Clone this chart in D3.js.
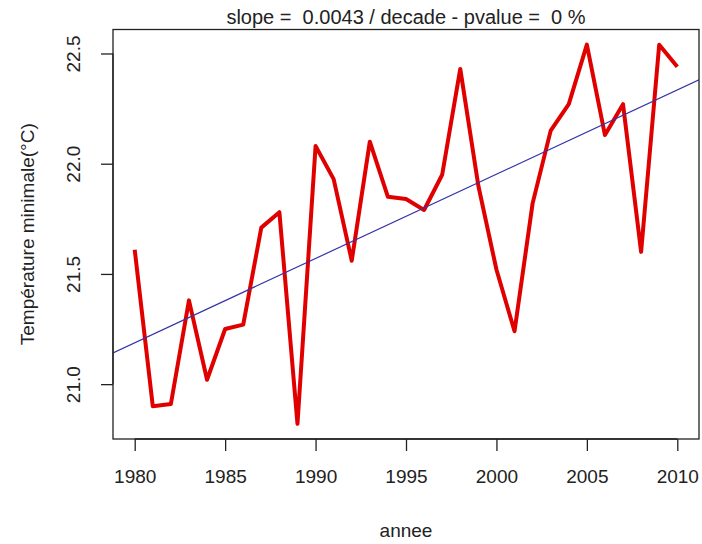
<!DOCTYPE html>
<html>
<head>
<meta charset="utf-8">
<script src="https://cdn.jsdelivr.net/npm/d3@7"></script>
<style>
  body { margin: 0; background: #fff; }
  text { font-family: "Liberation Sans", Arial, sans-serif; fill: #222; }
</style>
</head>
<body>
<script>
// annees et temperatures minimales
const years = d3.range(1980, 2011);
const tmin = [21.61, 20.90, 20.91, 21.38, 21.02, 21.25, 21.27, 21.71, 21.78, 20.82,
              22.08, 21.93, 21.56, 22.10, 21.85, 21.84, 21.79, 21.95, 22.43, 21.90,
              21.52, 21.24, 21.82, 22.15, 22.27, 22.54, 22.13, 22.27, 21.60, 22.54, 22.44];
const xTicks = [1980, 1985, 1990, 1995, 2000, 2005, 2010];
const yTicks = [21.0, 21.5, 22.0, 22.5];
const title = "slope =  0.0043 / decade - pvalue =  0 %";

const W = 702, H = 544;
const m = {left: 113, right: 3, top: 29.5, bottom: 105};
const fs = 19;

const svg = d3.select("body").append("svg")
    .attr("width", W).attr("height", H);

// echelles facon R (etendue +4%)
const xr = d3.extent(years), yr = d3.extent(tmin);
const dx = (xr[1] - xr[0]) * 0.04, dy = (yr[1] - yr[0]) * 0.04;
const x = d3.scaleLinear().domain([xr[0] - dx, xr[1] + dx]).range([m.left, W - m.right]);
const y = d3.scaleLinear().domain([yr[0] - dy, yr[1] + dy]).range([H - m.bottom, m.top]);

// regression lineaire (abline)
const mx = d3.mean(years), my = d3.mean(tmin);
let sxy = 0, sxx = 0;
years.forEach((yy, i) => { sxy += (yy - mx) * (tmin[i] - my); sxx += (yy - mx) * (yy - mx); });
const b = sxy / sxx, a = my - b * mx;

svg.append("clipPath").attr("id", "plotclip")
    .append("rect")
    .attr("x", m.left).attr("y", m.top)
    .attr("width", W - m.right - m.left).attr("height", H - m.bottom - m.top);

// courbe
svg.append("path")
    .datum(years.map((yy, i) => [yy, tmin[i]]))
    .attr("fill", "none")
    .attr("stroke", "#e00000")
    .attr("stroke-width", 4)
    .attr("stroke-linejoin", "round")
    .attr("d", d3.line().x(d => x(d[0])).y(d => y(d[1])));

// droite de tendance
const x0 = x.domain()[0], x1 = x.domain()[1];
svg.append("line")
    .attr("clip-path", "url(#plotclip)")
    .attr("x1", x(x0)).attr("y1", y(a + b * x0))
    .attr("x2", x(x1)).attr("y2", y(a + b * x1))
    .attr("stroke", "#3434a8")
    .attr("stroke-width", 1.2);

// cadre
svg.append("rect")
    .attr("x", m.left).attr("y", m.top)
    .attr("width", W - m.right - m.left).attr("height", H - m.bottom - m.top)
    .attr("fill", "none").attr("stroke", "#222").attr("stroke-width", 1.3);

// axe x
const gx = svg.append("g")
    .attr("transform", "translate(0," + (H - m.bottom) + ")")
    .call(d3.axisBottom(x).tickValues(xTicks).tickSize(12).tickPadding(19).tickFormat(d3.format("d")));
gx.select(".domain").attr("stroke", "#222").attr("stroke-width", 1.3)
    .attr("d", "M" + x(xTicks[0]) + ",0H" + x(xTicks[xTicks.length - 1]));
gx.selectAll(".tick line").attr("stroke", "#222").attr("stroke-width", 1.3);
gx.selectAll("text").attr("font-size", fs).attr("fill", "#222")
    .attr("font-family", "Liberation Sans, Arial, sans-serif");

// axe y
const gy = svg.append("g")
    .attr("transform", "translate(" + m.left + ",0)")
    .call(d3.axisLeft(y).tickValues(yTicks).tickSize(12).tickFormat(d3.format(".1f")));
gy.select(".domain").attr("stroke", "#222").attr("stroke-width", 1.3)
    .attr("d", "M0," + y(yTicks[0]) + "V" + y(yTicks[yTicks.length - 1]));
gy.selectAll(".tick line").attr("stroke", "#222").attr("stroke-width", 1.3);
gy.selectAll("text")
    .attr("font-size", fs).attr("fill", "#222")
    .attr("font-family", "Liberation Sans, Arial, sans-serif")
    .attr("text-anchor", "middle")
    .attr("x", 0).attr("dy", 0)
    .attr("transform", "translate(-33,0) rotate(-90)");

// titres
svg.append("text")
    .attr("x", (m.left + W - m.right) / 2).attr("y", 24)
    .attr("text-anchor", "middle")
    .attr("font-size", 20)
    .style("white-space", "pre")
    .text(title);

svg.append("text")
    .attr("x", (m.left + W - m.right) / 2).attr("y", 537)
    .attr("text-anchor", "middle")
    .attr("font-size", fs)
    .text("annee");

svg.append("text")
    .attr("transform", "translate(34," + ((m.top + H - m.bottom) / 2) + ") rotate(-90)")
    .attr("text-anchor", "middle")
    .attr("font-size", fs)
    .text("Température minimale(°C)");
</script>
</body>
</html>
